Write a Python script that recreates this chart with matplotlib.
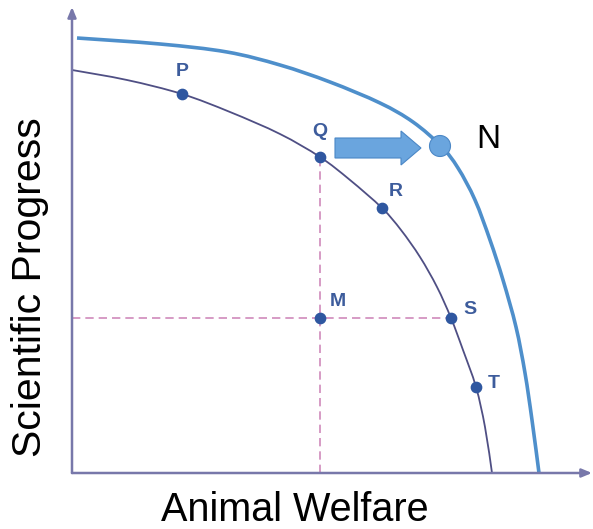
import matplotlib
matplotlib.use("Agg")
import matplotlib.pyplot as plt
from matplotlib.path import Path
from matplotlib.patches import PathPatch, FancyArrow, Circle

plt.rcParams['font.family'] = ['Liberation Sans', 'DejaVu Sans']

# values (welfare along x, progress along y)
inner_welfare = [0, 55, 110, 158, 208, 248, 278, 310, 329, 348, 365, 379, 391, 404, 413, 420]
inner_progress = [403, 393, 379, 361, 339, 316, 293, 265, 243, 216, 186, 155, 123, 86, 46, 0]
outer_welfare = [5, 88, 155, 208, 258, 308, 341, 369, 386, 403, 418, 431, 444, 453, 460, 467]
outer_progress = [435, 429, 421, 408, 391, 370, 351, 327, 305, 273, 233, 193, 146, 100, 53, 0]

point_names = ["P", "Q", "R", "S", "T", "M"]
point_welfare = [110, 248, 310, 379, 404, 248]
point_progress = [379, 316, 265, 155, 86, 155]
n_welfare, n_progress = 368, 327

AXIS_COLOR = "#7878aa"
INNER_COLOR = "#4f4f84"
OUTER_COLOR = "#4e8fcb"
DOT_COLOR = "#2f57a0"
LABEL_COLOR = "#3d5c9c"
DASH_COLOR = "#cf8abb"


def smooth_path(xs, ys):
    # cubic pieces through every point (Catmull-Rom style tangents)
    pts = list(zip(xs, ys))
    n = len(pts)
    verts = [pts[0]]
    codes = [Path.MOVETO]
    for i in range(n - 1):
        p0 = pts[max(i - 1, 0)]
        p1 = pts[i]
        p2 = pts[i + 1]
        p3 = pts[min(i + 2, n - 1)]
        c1 = (p1[0] + (p2[0] - p0[0]) / 6, p1[1] + (p2[1] - p0[1]) / 6)
        c2 = (p2[0] - (p3[0] - p1[0]) / 6, p2[1] - (p3[1] - p1[1]) / 6)
        verts += [c1, c2, p2]
        codes += [Path.CURVE4] * 3
    return Path(verts, codes)


fig = plt.figure(figsize=(5.93, 5.29), dpi=100)
ax = fig.add_axes([0, 0, 1, 1])
ax.set_xlim(-72, 521)
ax.set_ylim(-56, 473)
ax.axis("off")

# axes with arrow heads
head = "-|>,head_length=0.6,head_width=0.25"
ax.annotate("", xy=(520, 0), xytext=(0, 0), annotation_clip=False,
            arrowprops=dict(arrowstyle=head, color=AXIS_COLOR, lw=1.8, shrinkA=0, shrinkB=0))
ax.annotate("", xy=(0, 466), xytext=(0, 0), annotation_clip=False,
            arrowprops=dict(arrowstyle=head, color=AXIS_COLOR, lw=1.8, shrinkA=0, shrinkB=0))

# dashed guides through Q and S
q = point_names.index("Q")
s = point_names.index("S")
ax.plot([point_welfare[q], point_welfare[q]], [0, point_progress[q]], color=DASH_COLOR, lw=1.2, dashes=(5, 3))
ax.plot([0, point_welfare[s]], [point_progress[s], point_progress[s]], color=DASH_COLOR, lw=1.2, dashes=(5, 3))

# frontiers
ax.add_patch(PathPatch(smooth_path(inner_welfare, inner_progress), fill=False, edgecolor=INNER_COLOR, lw=1.3))
ax.add_patch(PathPatch(smooth_path(outer_welfare, outer_progress), fill=False, edgecolor=OUTER_COLOR, lw=2.6))

# points and labels
ax.scatter(point_welfare, point_progress, s=55, color=DOT_COLOR, zorder=5)
offsets = {"P": (0, 22), "Q": (0, 25), "R": (14, 17), "S": (19, 8), "T": (18, 3), "M": (18, 16)}
for name, x, y in zip(point_names, point_welfare, point_progress):
    dx, dy = offsets[name]
    ax.text(x + dx, y + dy, name, color=LABEL_COLOR, fontsize=14, fontweight="bold",
            ha="center", va="center")

# shift arrow and N
ax.add_patch(FancyArrow(263, 325, 86, 0, width=20, head_width=34, head_length=20,
                        length_includes_head=True, facecolor="#6aa5de", edgecolor="#4b87c6", lw=0.8, zorder=4))
ax.add_patch(Circle((n_welfare, n_progress), 10.5, facecolor="#6aa5de", edgecolor="#4b87c6", lw=0.8, zorder=6))
ax.text(n_welfare + 48, n_progress + 6, "N", fontsize=24, color="black", ha="center", va="center")

# axis titles
ax.text(223, -37, "Animal Welfare", fontsize=28.5, ha="center", va="center")
ax.text(-42, 186, "Scientific Progress", fontsize=29.5, rotation=90, ha="center", va="center")

fig.savefig("out.png", dpi=100)
